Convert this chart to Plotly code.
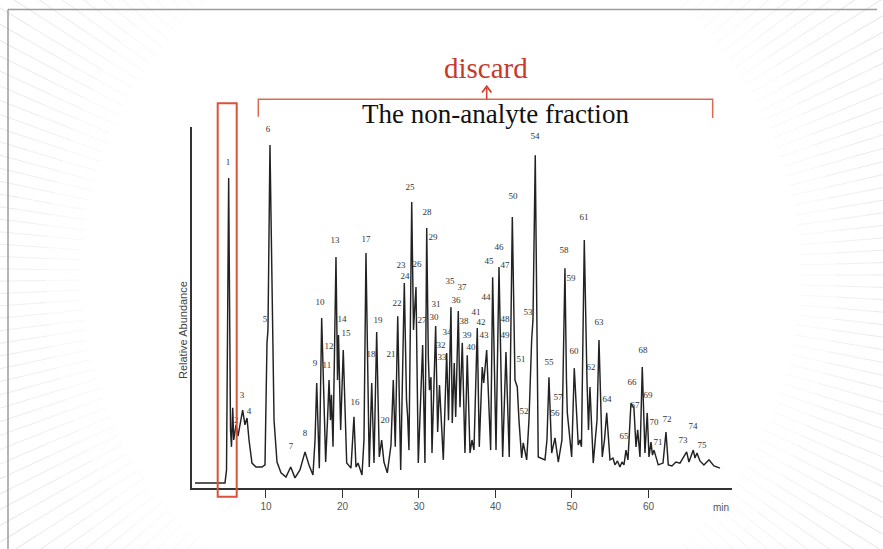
import math
import plotly.graph_objects as go

W, H = 883, 549

# ---- chromatogram trace (retention time [min], relative abundance [%]) ----
time_min = [0.72, 4.64, 4.84, 5.12, 5.36, 5.49, 5.65, 5.78, 6.08, 6.34, 6.95, 7.25, 7.52, 7.78, 8.17, 8.69,
            9.48, 9.87, 10.13, 10.26, 10.52, 10.78, 11.05, 11.44, 11.96, 12.61, 13.23, 13.79, 14.44, 15.10,
            15.62, 16.14, 16.41, 16.63, 16.97, 17.28, 17.80, 18.04, 18.24, 18.43, 18.56, 18.76, 19.15, 19.35,
            19.48, 19.76, 20.10, 20.55, 21.11, 21.50, 21.76, 22.03, 22.55, 22.81, 23.07, 23.50, 23.82, 24.12,
            24.47, 24.81, 25.12, 25.42, 25.86, 26.34, 26.64, 26.90, 27.22, 27.61, 28.08, 28.37, 28.52, 28.69,
            29.05, 29.28, 29.61, 29.91, 30.48, 30.78, 31.01, 31.22, 31.37, 31.57, 31.70, 32.18, 32.44, 32.68,
            32.88, 33.18, 33.62, 33.86, 34.18, 34.35, 34.61, 34.80, 35.14, 35.36, 35.66, 36.01, 36.31, 36.67,
            36.93, 37.19, 37.62, 37.88, 38.27, 38.46, 38.85, 39.37, 39.63, 40.07, 40.46, 40.65, 40.94, 41.37,
            41.80, 42.20, 42.55, 42.85, 43.07, 43.42, 43.63, 44.08, 44.38, 44.73, 44.90, 45.20, 45.59, 46.47,
            46.73, 46.99, 47.35, 47.78, 48.21, 48.69, 49.08, 49.28, 49.39, 49.96, 50.30, 50.82, 51.05, 51.24,
            51.61, 51.96, 52.16, 52.35, 52.78, 53.27, 53.53, 53.96, 54.25, 54.54, 54.97, 55.36, 55.62, 55.95,
            56.27, 56.54, 56.80, 57.06, 57.32, 57.71, 58.10, 58.37, 58.59, 58.89, 59.19, 59.54, 59.84, 60.07,
            60.33, 60.52, 60.72, 61.28, 61.90, 62.29, 62.59, 63.07, 63.59, 64.12, 64.64, 64.99, 65.29, 65.56,
            65.86, 66.08, 66.34, 66.73, 67.25, 67.91, 68.56, 69.35]
abundance = [1.4, 1.4, 5.0, 85.9, 16.1, 11.4, 22.2, 13.3, 17.5, 14.4, 21.6, 17.5, 19.4, 13.3, 6.9, 5.8,
             5.8, 6.4, 40.2, 43.8, 95.0, 52.1, 18.8, 7.2, 4.2, 3.0, 5.8, 2.8, 5.0, 10.0,
             6.4, 3.6, 13.3, 29.1, 5.5, 47.1, 7.2, 18.8, 29.9, 18.8, 25.8, 11.4, 64.0, 29.9,
             42.4, 16.1, 38.2, 6.9, 5.5, 19.7, 5.8, 6.9, 3.6, 13.3, 65.1, 5.8, 29.1, 6.9,
             43.2, 8.6, 13.3, 7.2, 4.2, 11.9, 29.9, 11.4, 47.6, 5.0, 56.8, 24.4, 19.7, 10.5,
             79.2, 43.8, 55.7, 6.9, 39.6, 6.9, 72.0, 36.3, 27.1, 30.7, 9.7, 44.9, 15.5, 28.5,
             18.8, 7.8, 37.4, 18.8, 50.1, 18.0, 34.6, 19.7, 49.0, 22.4, 40.2, 9.7, 36.8, 9.7,
             13.3, 10.5, 44.3, 11.4, 33.5, 29.1, 38.2, 10.5, 58.4, 10.5, 61.2, 43.8, 8.6, 37.7,
             8.6, 75.1, 29.9, 28.0, 18.8, 8.3, 12.5, 7.8, 18.8, 41.0, 46.5, 92.2, 8.6, 7.8,
             13.3, 30.7, 9.7, 13.9, 7.2, 13.3, 60.9, 29.9, 20.8, 8.6, 33.2, 11.9, 13.3, 11.4,
             68.7, 29.9, 16.1, 28.0, 6.9, 18.8, 41.0, 8.6, 13.3, 20.8, 7.8, 8.3, 6.4, 7.5,
             5.8, 7.2, 6.4, 10.5, 7.8, 23.5, 22.2, 11.4, 16.1, 8.6, 33.5, 9.7, 20.8, 8.6,
             12.7, 9.1, 10.5, 6.4, 6.9, 15.5, 6.4, 6.1, 7.2, 6.9, 8.6, 10.0, 7.2, 9.1,
             10.5, 8.3, 9.7, 7.5, 6.4, 7.8, 6.1, 5.5]

# ---- peak numbers and where they are printed ----
peak_labels = [str(i) for i in range(1, 76)]
label_time = [5.03, 6.10, 6.86, 7.78, 9.87, 10.26, 13.27, 15.10, 16.41, 17.06, 17.97, 18.24, 19.02, 19.93, 20.46,
              21.63, 23.07, 23.73, 24.64, 25.56, 26.34, 27.12, 27.65, 28.17, 28.82, 29.74, 30.39, 31.05, 31.83,
              31.96, 32.22, 32.88, 33.01, 33.66, 34.05, 34.84, 35.62, 35.88, 36.27, 36.80, 37.45, 38.10, 38.50,
              38.76, 39.15, 40.46, 41.24, 41.24, 41.24, 42.29, 43.33, 43.73, 44.25, 45.16, 46.99, 47.78, 48.17,
              48.95, 49.87, 50.26, 51.57, 52.48, 53.53, 54.58, 56.80, 57.84, 58.24, 59.29, 59.93, 60.72, 61.24,
              62.42, 64.51, 65.82, 66.99]
label_abund = [90.0, 18.6, 25.5, 21.1, 46.5, 99.2, 11.4, 15.0, 34.3, 51.2, 33.8, 39.1, 68.4, 46.5, 42.7,
               23.5, 68.7, 36.8, 46.3, 18.6, 36.8, 51.0, 61.5, 58.4, 83.1, 61.8, 46.3, 76.2, 69.3,
               47.1, 50.7, 39.3, 36.0, 42.9, 57.1, 51.8, 55.4, 46.0, 42.1, 38.8, 48.5, 45.7, 42.1,
               52.6, 62.6, 66.5, 61.5, 46.5, 42.1, 80.6, 35.5, 21.1, 48.5, 97.2, 34.6, 20.5, 24.9,
               65.7, 57.9, 37.7, 74.8, 33.2, 45.7, 24.4, 14.1, 29.1, 22.7, 38.0, 25.5, 18.0, 12.5,
               18.8, 13.0, 16.9, 11.6]

x_tick_vals = [10, 20, 30, 40, 50, 60]
x_tick_text = ["10", "20", "30", "40", "50", "60"]
x_unit = "min"
y_title = "Relative Abundance"
header_text = "The non-analyte fraction"
discard_text = "discard"


def px(x, y):
    """figure pixel -> paper fraction"""
    return x / W, 1 - y / H


fig = go.Figure()
fig.add_trace(go.Scatter(x=time_min, y=abundance, mode="lines",
                         line=dict(color="#222222", width=1.45), hoverinfo="skip"))
fig.add_trace(go.Scatter(x=label_time, y=label_abund, mode="text", text=peak_labels,
                         textfont=dict(family="Liberation Serif", size=9, color="#333333"),
                         cliponaxis=False, hoverinfo="skip"))

shapes = []
# sunburst background rays
cx, cy = 441, 275
bands = [(360, 395, "#f8f8f8"), (395, 430, "#f1f1f1"), (430, 480, "#ebebeb"), (480, 800, "#e4e4e4")]
n_rays = 225
for r0, r1, col in bands:
    segs = []
    for k in range(n_rays):
        a = 2 * math.pi * k / n_rays
        x0, y0 = px(cx + r0 * math.cos(a), cy + r0 * math.sin(a))
        x1, y1 = px(cx + r1 * math.cos(a), cy + r1 * math.sin(a))
        segs.append(f"M{x0:.4f},{y0:.4f}L{x1:.4f},{y1:.4f}")
    shapes.append(dict(type="path", path="".join(segs), xref="paper", yref="paper",
                       line=dict(color=col, width=1), layer="below"))

# frame (top + left)
fx0, fy0 = px(8, 9.5)
fx1, _ = px(877, 9.5)
_, fyb = px(8, 549)
shapes.append(dict(type="line", xref="paper", yref="paper", x0=fx0, y0=fy0, x1=fx1, y1=fy0,
                   line=dict(color="#9c9c9c", width=1.5), layer="below"))
shapes.append(dict(type="line", xref="paper", yref="paper", x0=fx0, y0=fy0, x1=fx0, y1=fyb,
                   line=dict(color="#9c9c9c", width=1.5), layer="below"))

# red box around peak 1
bx0, by0 = px(217.7, 496.7)
bx1, by1 = px(236.7, 103.3)
shapes.append(dict(type="rect", xref="paper", yref="paper", x0=bx0, y0=by0, x1=bx1, y1=by1,
                   line=dict(color="#dc5238", width=2), fillcolor="rgba(0,0,0,0)"))

# bracket over the non-analyte fraction
p = [px(258.3, 116.7), px(258.3, 99.3), px(712.7, 99.3), px(712.7, 118)]
path = "M{:.4f},{:.4f}L{:.4f},{:.4f}L{:.4f},{:.4f}L{:.4f},{:.4f}".format(*[c for q in p for c in q])
shapes.append(dict(type="path", path=path, xref="paper", yref="paper",
                   line=dict(color="#dc6a52", width=1.5)))
# arrow
s0 = px(486.7, 99.3)
s1 = px(486.7, 88)
shapes.append(dict(type="line", xref="paper", yref="paper", x0=s0[0], y0=s0[1], x1=s1[0], y1=s1[1],
                   line=dict(color="#d4402f", width=1.6)))
h = [px(482.0, 92.5), px(486.7, 86.2), px(491.4, 92.5)]
hpath = "M{:.4f},{:.4f}L{:.4f},{:.4f}L{:.4f},{:.4f}".format(*[c for q in h for c in q])
shapes.append(dict(type="path", path=hpath, xref="paper", yref="paper",
                   line=dict(color="#d4402f", width=1.8)))

annotations = []
ax_, ay_ = px(486, 68)
annotations.append(dict(text=discard_text, x=ax_, y=ay_, xref="paper", yref="paper", showarrow=False,
                        xanchor="center", yanchor="middle",
                        font=dict(family="Liberation Serif", size=29, color="#c63a2a")))
ax_, ay_ = px(495, 114)
annotations.append(dict(text=header_text, x=ax_, y=ay_, xref="paper", yref="paper", showarrow=False,
                        xanchor="center", yanchor="middle",
                        font=dict(family="Liberation Serif", size=27, color="#111111")))
ax_, ay_ = px(183, 330)
annotations.append(dict(text=y_title, x=ax_, y=ay_, xref="paper", yref="paper", showarrow=False,
                        textangle=-90, xanchor="center", yanchor="middle",
                        font=dict(family="Liberation Sans", size=11, color="#444444")))
ax_, ay_ = px(721, 507)
annotations.append(dict(text=x_unit, x=ax_, y=ay_, xref="paper", yref="paper", showarrow=False,
                        xanchor="center", yanchor="middle",
                        font=dict(family="Liberation Sans", size=10, color="#555555")))

fig.update_layout(
    width=W, height=H,
    margin=dict(l=0, r=0, t=0, b=0),
    paper_bgcolor="white", plot_bgcolor="rgba(0,0,0,0)",
    showlegend=False,
    shapes=shapes, annotations=annotations,
    xaxis=dict(domain=[192 / W, 732 / W], range=[0.327, 70.92], showline=True, linecolor="#333333",
               linewidth=1.6, ticks="outside", ticklen=8, tickwidth=1.4, tickcolor="#333333",
               tickvals=x_tick_vals, ticktext=x_tick_text,
               tickfont=dict(family="Liberation Sans", size=10, color="#555555"),
               showgrid=False, zeroline=False),
    yaxis=dict(domain=[(H - 488) / H, (H - 127) / H], range=[0, 100], showline=True,
               linecolor="#333333", linewidth=1.6, showticklabels=False, ticks="",
               showgrid=False, zeroline=False),
)

fig.write_html("out.html", config={"displayModeBar": False},
               post_script="document.body.style.margin='0';document.body.style.overflow='hidden';")
